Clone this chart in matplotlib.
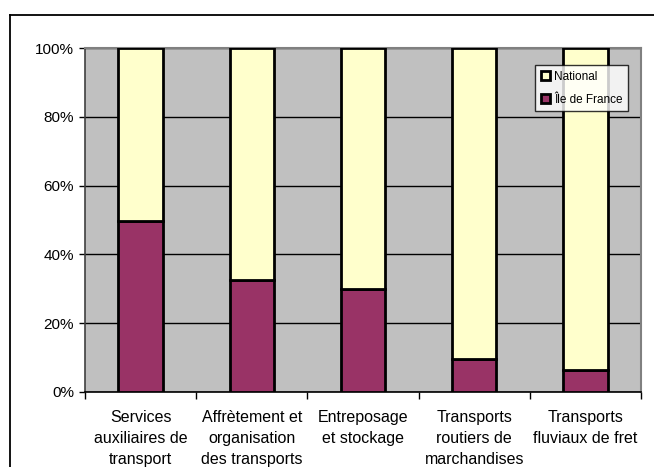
import matplotlib
matplotlib.use("Agg")
import matplotlib.pyplot as plt
from matplotlib.ticker import FixedLocator, PercentFormatter
import numpy as np

plt.rcParams['font.family'] = ['Liberation Sans', 'DejaVu Sans']

categories = [
    "Services\nauxiliaires de\ntransport",
    "Affrètement et\norganisation\ndes transports",
    "Entreposage\net stockage",
    "Transports\nroutiers de\nmarchandises",
    "Transports\nfluviaux de fret",
]
idf_share = [49.7, 32.5, 29.8, 9.4, 6.3]          # Île de France, %
national_share = [100 - v for v in idf_share]      # remainder up to 100 %
y_ticks = [0, 20, 40, 60, 80, 100]

W, H = 654, 467
fig = plt.figure(figsize=(W / 100, H / 100), dpi=100)
fig.patch.set_facecolor("white")

# outer chart frame (open on right and bottom)
fig.add_artist(plt.Line2D([10 / W, 10 / W], [0, 1 - 14.7 / H], transform=fig.transFigure,
                          color="black", lw=1.3))
fig.add_artist(plt.Line2D([10 / W, 1], [1 - 14.7 / H, 1 - 14.7 / H], transform=fig.transFigure,
                          color="black", lw=1.3))

ax = fig.add_axes([85 / W, 1 - 391.7 / H, (641 - 85) / W, (391.7 - 48.3) / H])
ax.set_facecolor("#C0C0C0")

x = np.arange(len(categories))
bw = 0.40
ax.bar(x, idf_share, width=bw, color="#993366", edgecolor="black", linewidth=2,
       label="Île de France", zorder=3)
ax.bar(x, national_share, width=bw, bottom=idf_share, color="#FFFFCC", edgecolor="black",
       linewidth=2, label="National", zorder=3)

ax.set_xlim(-0.5, len(categories) - 0.5)
ax.set_ylim(0, 100)
ax.yaxis.set_major_locator(FixedLocator(y_ticks))
ax.yaxis.set_major_formatter(PercentFormatter(decimals=0))
ax.grid(axis="y", color="black", linewidth=1.0, zorder=1)
ax.set_axisbelow(True)

ax.set_xticks(x)
ax.set_xticklabels(categories, fontsize=11.5, linespacing=1.5)
ax.xaxis.set_minor_locator(FixedLocator(np.arange(-0.5, len(categories), 1.0)))
ax.tick_params(axis="x", which="major", length=0, pad=13)
ax.tick_params(axis="x", which="minor", length=5, width=1, color="black", direction="out")
ax.tick_params(axis="y", which="major", length=4, width=1, color="black", direction="out",
               labelsize=11, pad=4)

for side in ("top", "right"):
    ax.spines[side].set_color("#808080")
    ax.spines[side].set_linewidth(1.5)
ax.spines["left"].set_color("#404040")
ax.spines["bottom"].set_color("black")
for side in ("left", "bottom"):
    ax.spines[side].set_linewidth(1.2)

handles, labels = ax.get_legend_handles_labels()
leg = ax.legend(handles[::-1], labels[::-1], loc="upper left",
                bbox_to_anchor=((535 - 85) / (641 - 85), 1 - (65 - 48.3) / (391.7 - 48.3)),
                fontsize=8.5, frameon=True, fancybox=False, handlelength=0.8, handleheight=0.8,
                handletextpad=0.3, borderpad=0.5, labelspacing=0.9, borderaxespad=0)
leg.get_frame().set_edgecolor("black")
leg.get_frame().set_linewidth(1.0)
leg.get_frame().set_facecolor("white")
leg.set_zorder(5)

fig.savefig("out.png", dpi=100)
